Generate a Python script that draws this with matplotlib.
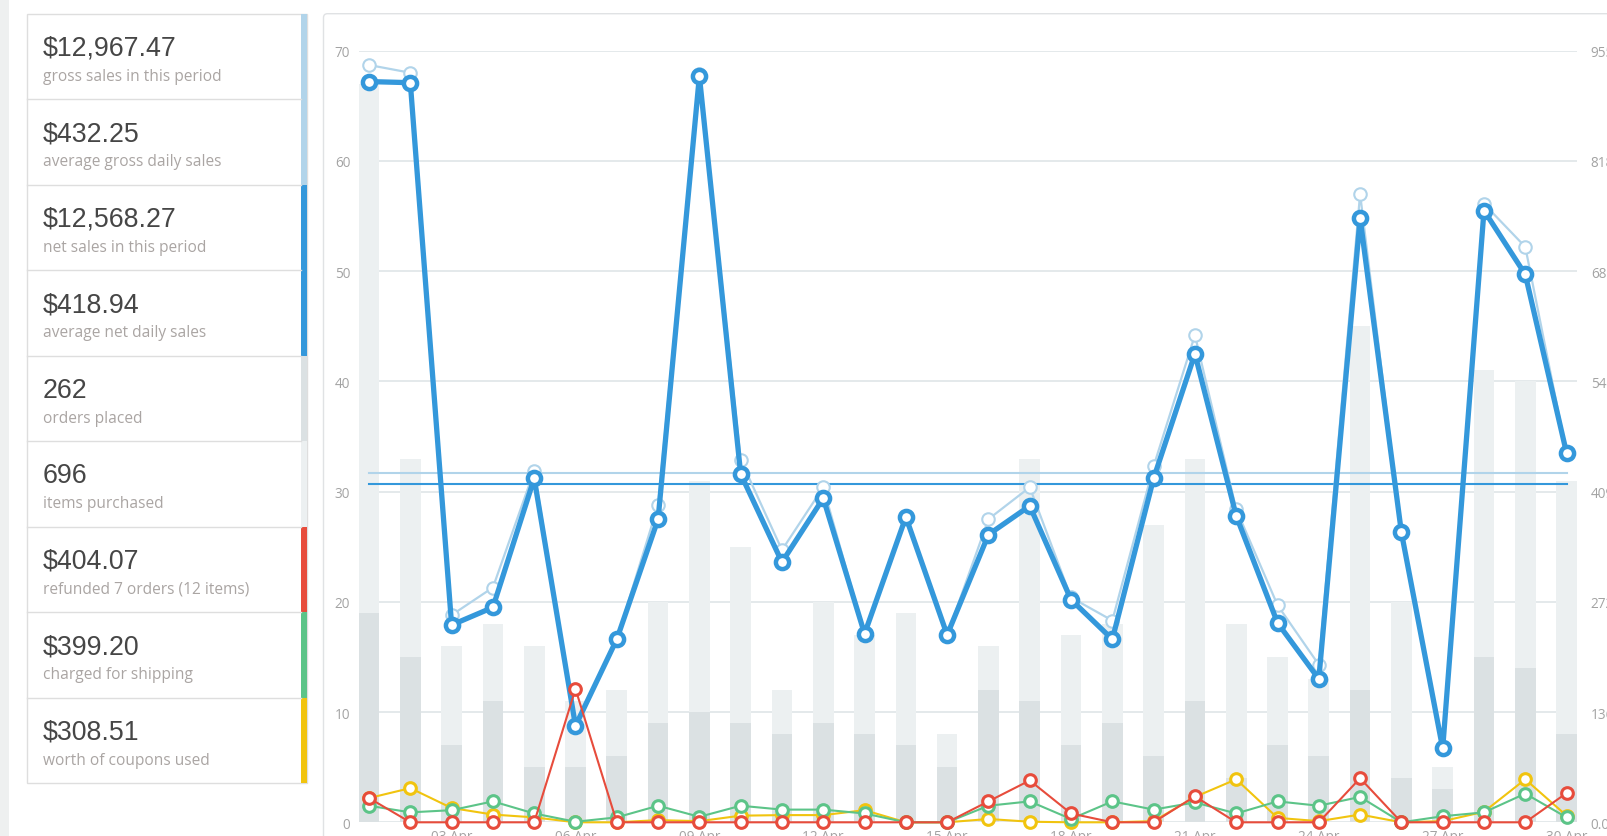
import matplotlib.pyplot as plt
import numpy as np
from matplotlib.patches import Rectangle, FancyBboxPatch

# summary cards (left column)
card_values = ['$12,967.47', '$432.25', '$12,568.27', '$418.94', '262', '696',
               '$404.07', '$399.20', '$308.51']
card_labels = ['gross sales in this period', 'average gross daily sales',
               'net sales in this period', 'average net daily sales',
               'orders placed', 'items purchased', 'refunded 7 orders (12 items)',
               'charged for shipping', 'worth of coupons used']
card_colors = ['#b1d4ea', '#b1d4ea', '#3498db', '#3498db', '#dbe1e3', '#ecf0f1',
               '#e74c3c', '#5cc488', '#f1c40f']

# daily data, 01 Apr .. 30 Apr
days = [f'{d:02d} Apr' for d in range(1, 31)]
items = [67, 33, 16, 18, 16, 11, 12, 20, 31, 25, 12, 20, 17, 19, 8,
         16, 33, 17, 18, 27, 33, 18, 15, 13, 45, 20, 5, 41, 40, 31]
orders = [19, 15, 7, 11, 5, 5, 6, 9, 10, 9, 8, 9, 8, 7, 5,
          12, 11, 7, 9, 6, 11, 4, 7, 6, 12, 4, 3, 15, 14, 8]
gross = [937.3, 927.7, 256.5, 290.6, 435.2, 119.4, 226.5, 392.9, 926.4, 448.9,
         337.0, 414.7, 233.3, 377.9, 231.9, 375.2, 414.7, 278.3, 249.7, 440.7,
         603.0, 387.5, 268.8, 195.1, 777.7, 358.8, 91.4, 765.4, 712.2, 457.0]
net = [916.8, 915.4, 244.2, 266.0, 425.7, 119.4, 226.5, 375.2, 923.6, 431.1,
       322.0, 401.1, 233.3, 377.9, 231.9, 356.1, 391.6, 275.6, 226.5, 425.7,
       579.8, 379.3, 246.9, 177.4, 747.6, 358.8, 91.4, 757.2, 678.1, 457.0]
refunds = [30.0, 0, 0, 0, 0, 165.1, 0, 0, 0, 0, 0, 0, 0, 0, 0,
           25.9, 51.8, 10.9, 0, 0, 32.1, 0, 0, 0, 54.6, 0, 0, 0, 0, 36.2]
shipping = [20.5, 12.3, 15.0, 25.9, 10.9, 0.7, 6.1, 20.5, 6.8, 20.5, 15.7, 15.7, 10.9, 0, 0,
            20.5, 25.9, 4.1, 25.9, 15.7, 24.6, 10.9, 25.9, 20.5, 31.4, 0, 7.5, 12.3, 35.5, 6.1]
coupons = [30.0, 42.3, 17.7, 9.6, 6.1, 0, 0, 2.7, 1.4, 8.2, 8.9, 8.9, 15.0, 0, 0,
           4.1, 0.7, 0, 0, 1.4, 31.4, 53.2, 5.5, 1.4, 9.6, 0, 1.4, 13.0, 53.2, 8.2]
avg_gross = 432.25
avg_net = 418.94
sales_max = 955.0

plt.rcParams['font.family'] = ['Open Sans', 'DejaVu Sans']

W, H = 1608, 837
fig = plt.figure(figsize=(W / 100, H / 100), dpi=100)

# background layer in pixel coordinates
bg = fig.add_axes([0, 0, 1, 1], zorder=0)
bg.set_xlim(0, W)
bg.set_ylim(H, 0)
bg.axis('off')

bg.add_patch(Rectangle((0, 0), 9, H, color='#eef0f0', lw=0))

# cards
top0, row_h, left, right = 14.7, 85.5, 26.7, 306.7
bg.add_patch(Rectangle((left, top0), right - left, row_h * len(card_values),
                       facecolor='white', edgecolor='#dedede', lw=1))
for i in range(len(card_values)):
    top = top0 + i * row_h
    if i > 0:
        bg.plot([left, right - 5.7], [top, top], color='#dedede', lw=1)
    bg.add_patch(Rectangle((right - 5.7, top), 5.7, row_h, color=card_colors[i], lw=0))
    bg.text(43, top + 41, card_values[i], fontsize=19.3, color='#464646',
            family='Liberation Sans', va='baseline')
    bg.text(43, top + 66, card_labels[i], fontsize=11.2, color='#aaa5a3', va='baseline')

# chart panel
bg.add_patch(FancyBboxPatch((323.5, 14.7), 1400, 900,
                            boxstyle='round,pad=0,rounding_size=4',
                            facecolor='white', edgecolor='#e0e2e4', lw=1))

# chart axes
x = np.arange(len(days))
ax = fig.add_axes([358.7 / W, (H - 823.3) / H, 1218.2 / W, 771.6 / H], zorder=1)
ax.patch.set_visible(False)
ax.bar(x, items, width=0.5, color='#ecf0f1', zorder=2)
ax.bar(x, orders, width=0.5, color='#dbe1e3', zorder=3)
ax.set_xlim(-0.25, 29.25)
ax.set_ylim(0, 70)
ax.set_yticks(range(0, 71, 10))
ax.set_xticks(x[2::3])
ax.set_xticklabels(days[2::3])
ax.yaxis.grid(True, color='#dde3e5', lw=1.1)
ax.set_axisbelow(True)
ax.tick_params(length=0, labelsize=9.8, labelcolor='#a3a3a3', pad=6)
ax.tick_params(axis='x', pad=5)
for s in ax.spines.values():
    s.set_visible(False)

ax2 = ax.twinx()
ax2.set_ylim(0, sales_max)
ticks = np.linspace(0, sales_max, 8)
ax2.set_yticks(ticks)
ax2.set_yticklabels([f'{t:.2f}' for t in ticks])
ax2.tick_params(length=0, labelsize=9.8, labelcolor='#a3a3a3', pad=10)
for s in ax2.spines.values():
    s.set_visible(False)

ax2.plot([x[0], x[-1]], [avg_gross, avg_gross], color='#b1d4ea', lw=1.5)
ax2.plot([x[0], x[-1]], [avg_net, avg_net], color='#3498db', lw=1.5)
ax2.plot(x, gross, color='#b1d4ea', lw=1.6, marker='o', ms=9, mfc='white',
         mec='#b1d4ea', mew=1.5, clip_on=False)
ax2.plot(x, net, color='#3498db', lw=3.8, marker='o', ms=9.5, mfc='white',
         mec='#3498db', mew=3.2, clip_on=False)
for vals, col in [(coupons, '#f1c40f'), (shipping, '#5cc488'), (refunds, '#e74c3c')]:
    ax2.plot(x, vals, color=col, lw=1.5, marker='o', ms=8.4, mfc='white',
             mec=col, mew=2.2, clip_on=False)

fig.savefig('out.png', dpi=100)
